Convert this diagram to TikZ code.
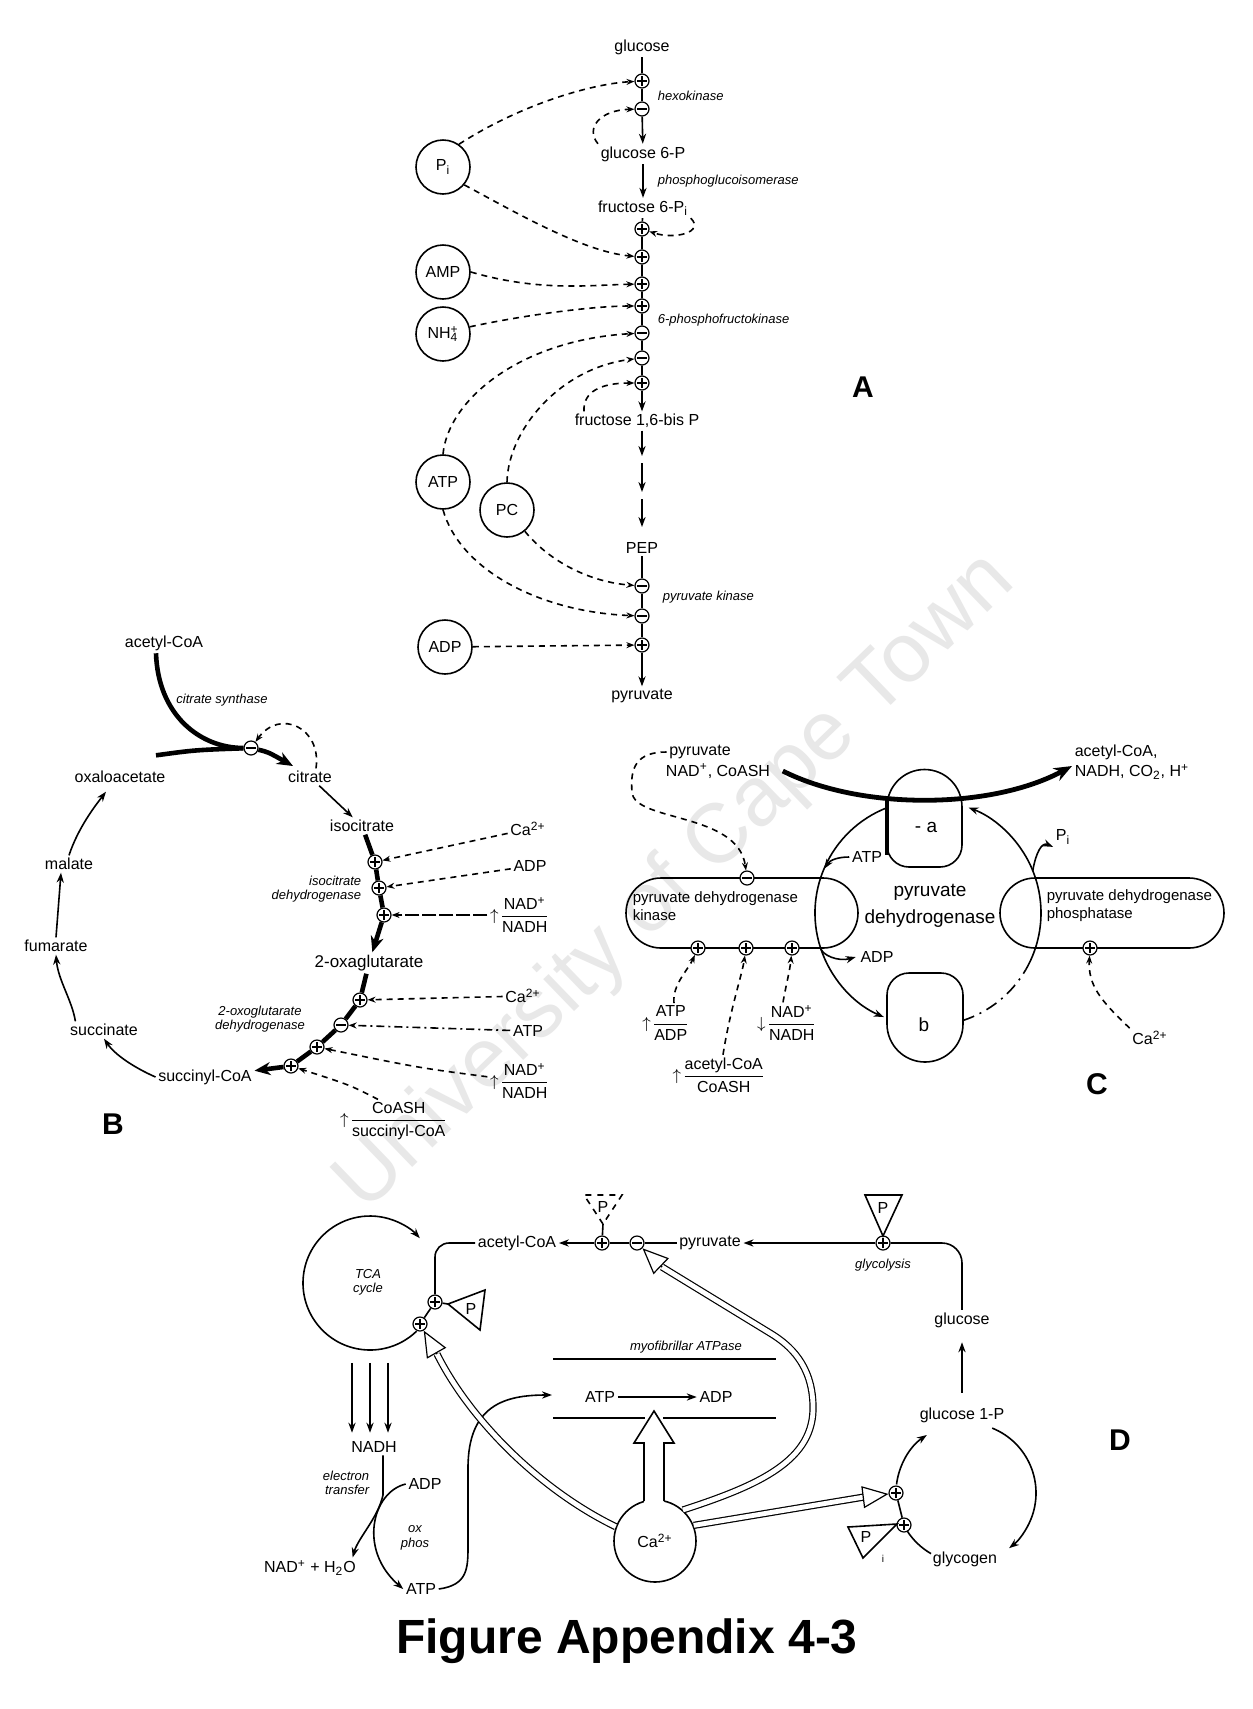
\documentclass[tikz,border=0pt]{standalone}
\usepackage{fontspec}
\setmainfont{Liberation Sans}
\usetikzlibrary{arrows.meta,calc,shapes.misc}
\newcommand{\upfr}[2]{${\uparrow}\kern0.5pt\displaystyle\frac{\mbox{#1}}{\mbox{#2}}$}
\newcommand{\dnfr}[2]{${\downarrow}\kern0.5pt\displaystyle\frac{\mbox{#1}}{\mbox{#2}}$}
\begin{document}
\begin{tikzpicture}[x=0.5pt,y=-0.5pt,line width=0.8pt,
 lbl/.style={font=\fontsize{8}{9}\selectfont,inner sep=1pt},
 sml/.style={font=\fontsize{6.5}{7.2}\selectfont\itshape,inner sep=1pt},
 ltr/.style={font=\fontsize{15}{17}\selectfont\bfseries,inner sep=0pt},
 mol/.style={circle,draw,minimum size=27pt,inner sep=0pt,font=\fontsize{8}{9}\selectfont},
 pm/.style={circle,draw,fill=white,minimum size=7pt,inner sep=0pt,line width=0.6pt},
 opl/.style={pm,path picture={\draw[line width=0.6pt] ([xshift=-2.3pt]path picture bounding box.center) -- ([xshift=2.3pt]path picture bounding box.center) ([yshift=-2.3pt]path picture bounding box.center) -- ([yshift=2.3pt]path picture bounding box.center);}},
 omi/.style={pm,path picture={\draw[line width=0.6pt] ([xshift=-2.3pt]path picture bounding box.center) -- ([xshift=2.3pt]path picture bounding box.center);}},
 arr/.style={-{Stealth[length=5pt,width=3.6pt]}},
 dsh/.style={dash pattern=on 3pt off 2.5pt,-{Stealth[length=4pt,width=3pt]}},
 thk/.style={line width=2.3pt},
 thka/.style={line width=2.3pt,-{Stealth[length=8pt,width=6.5pt]}},
 hol/.style={draw,line width=0.6pt,double=white,double distance=2.4pt},
 holhd/.style={line width=0.6pt,-{Triangle[fill=white,length=13pt,width=11pt]}},
]
\fill[white] (0,0) rectangle (1253,1709);
\useasboundingbox (0,0) rectangle (1253,1709);

% watermark
\node[rotate=44,text=black!9,font=\fontsize{42}{48}\selectfont] (wm) at (676,883) {University of Cape Town};

%%%%%%%%%%%%%%%% PANEL A
\node[lbl] (glc) at (642,47) {glucose};
\node[opl] (a1) at (642,81) {};
\node[omi] (a2) at (642,109) {};
\node[lbl] (g6p) at (643,154) {glucose 6-P};
\node[lbl] (f6p) at (643,208) {fructose 6-P\textsubscript{i}};
\node[opl] (a3) at (642,229) {};
\node[opl] (a4) at (642,257) {};
\node[opl] (a5) at (642,284) {};
\node[opl] (a6) at (642,306) {};
\node[omi] (a7) at (642,333) {};
\node[omi] (a8) at (642,358) {};
\node[opl] (a9) at (642,383) {};
\node[lbl] (f16) at (637,421) {fructose 1,6-bis P};
\coordinate (s1) at (642,456);
\coordinate (s2) at (642,463);
\coordinate (s3) at (642,492);
\coordinate (s4) at (642,499);
\coordinate (s5) at (642,527);
\node[lbl] (pep) at (642,548) {PEP};
\node[omi] (a10) at (642,586) {};
\node[omi] (a11) at (642,616) {};
\node[opl] (a12) at (642,645) {};
\node[lbl] (pyrA) at (642,696) {pyruvate};

\node[sml,anchor=west] (hk) at (655,96) {hexokinase};
\node[sml,anchor=west] (pgi) at (655,181) {phosphoglucoisomerase};
\node[sml,anchor=west] (pfk) at (655,320) {6-phosphofructokinase};
\node[sml,anchor=west] (pkl) at (660,597) {pyruvate kinase};

\node[mol] (pi) at (443,167) {P\textsubscript{i}};
\node[mol] (amp) at (443,272) {AMP};
\node[mol] (nh4) at (443,334) {NH\rlap{\textsuperscript{+}}\textsubscript{4}};
\node[mol] (atpA) at (443,482) {ATP};
\node[mol] (pc) at (507,510) {PC};
\node[mol] (adpA) at (445,647) {ADP};

\draw (glc) -- (a1) -- (a2);
\draw[arr] (a2) -- (g6p);
\draw[arr] (g6p) -- (f6p);
\draw (f6p) -- (a3) -- (a4) -- (a5) -- (a6) -- (a7) -- (a8) -- (a9);
\draw[arr] (a9) -- (a9 |- f16.north);
\draw[arr] (a9 |- f16.south) -- (s1);
\draw[arr] (s2) -- (s3);
\draw[arr] (s4) -- (s5);
\draw (pep) -- (a10) -- (a11) -- (a12);
\draw[arr] (a12) -- (pyrA);

\draw[dsh] (pi.55) .. controls (520,105) and (590,84) .. (a1);
\draw[dsh] (pi.-40) .. controls (520,215) and (585,252) .. (a4);
\draw[dsh] (g6p.north west) .. controls (585,128) and (600,110) .. (a2);
\draw[dsh] (f6p.south east) .. controls (705,232) and (675,240) .. (a3);
\draw[dsh] (amp.east) .. controls (540,292) and (590,285) .. (a5);
\draw[dsh] (nh4.15) .. controls (520,316) and (590,306) .. (a6);
\draw[dsh] (atpA.north) .. controls (448,400) and (520,340) .. (a7);
\draw[dsh] (pc.north) .. controls (508,430) and (560,368) .. (a8);
\draw[dsh] ([xshift=6pt]f16.north west) .. controls (583,392) and (600,383) .. (a9);
\draw[dsh] (pc.-50) .. controls (550,562) and (590,582) .. (a10);
\draw[dsh] (atpA.south) .. controls (460,570) and (540,612) .. (a11);
\draw[dsh] (adpA) -- (a12);
\node[ltr] (lA) at (863,387) {A};

%%%%%%%%%%%%%%%% PANEL B
\node[lbl] (bacoa) at (164,643) {acetyl-CoA};
\node[sml] (bcsl) at (222,700) {citrate synthase};
\node[omi] (bcs) at (251,748) {};
\node[lbl] (boaa) at (120,777) {oxaloacetate};
\node[lbl] (bcit) at (310,777) {citrate};
\node[lbl] (biso) at (362,826) {isocitrate};
\node[opl] (bi1) at (375,862) {};
\node[opl] (bi2) at (379,888) {};
\node[opl] (bi3) at (384,915) {};
\node[sml,align=right,anchor=east] (bidl) at (364,889) {isocitrate\\dehydrogenase};
\node[font=\fontsize{8.5}{9.5}\selectfont,inner sep=1pt] (boxg) at (369,963) {2-oxaglutarate};
\node[opl] (bo1) at (360,1000) {};
\node[omi] (bo2) at (341,1025) {};
\node[opl] (bo3) at (317,1047) {};
\node[opl] (bo4) at (291,1066) {};
\node[sml,align=center] (bodl) at (260,1019) {2-oxoglutarate\\dehydrogenase};
\node[lbl] (bsuc) at (205,1077) {succinyl-CoA};
\node[lbl] (bsn) at (104,1030) {succinate};
\node[lbl] (bfum) at (56,946) {fumarate};
\node[lbl] (bmal) at (69,864) {malate};
\node[lbl] (bca1) at (528,829) {Ca\textsuperscript{2+}};
\node[lbl] (badp) at (530,866) {ADP};
\node[lbl] (bnad1) at (520,915) {\upfr{NAD\textsuperscript{+}}{NADH}};
\node[lbl] (bca2) at (523,996) {Ca\textsuperscript{2+}};
\node[lbl] (batp) at (528,1031) {ATP};
\node[lbl] (bnad2) at (520,1081) {\upfr{NAD\textsuperscript{+}}{NADH}};
\node[lbl] (bcoa) at (394,1121) {\upfr{CoASH}{succinyl-CoA}};
\node[ltr] (lB) at (113,1124) {B};

\draw[thk] ([xshift=-4pt]bacoa.south) .. controls (158,715) and (200,748) .. (bcs);
\draw[thk] ([xshift=18pt,yshift=6.5pt]boaa.north) .. controls (195,750) .. (bcs);
\coordinate (bcitin) at (293,766);
\draw[thka] (bcs) .. controls (268,752) .. (bcitin);
\draw[dsh] ([xshift=3pt]bcit.north) .. controls (322,728) and (280,708) .. (bcs);
\draw[arr] (bcit) -- (biso);
\draw[thk] (biso) -- (bi1);
\draw[thk] (bi1) -- (bi2) -- (bi3);
\draw[thka] (bi3) -- (boxg);
\draw[thk] (boxg) -- (bo1);
\draw[thk] (bo1) -- (bo2) -- (bo3) -- (bo4);
\draw[thka] (bo4) -- (bsuc);
\draw[arr] (bsuc.west) .. controls (135,1068) and (115,1055) .. (bsn.south);
\draw[arr] ([xshift=4pt]bsn.north west) .. controls (72,1000) and (58,980) .. (bfum.south);
\draw[arr] (bfum.north) -- ([xshift=-4pt]bmal.south);
\draw[arr] (bmal.north) .. controls (78,828) and (95,806) .. ([xshift=-7pt,yshift=-3pt]boaa.south);
\draw[dsh] (bca1) -- (bi1);
\draw[dsh] (badp) -- (bi2);
\draw[dsh,dash pattern=on 7pt off 1.5pt] (bnad1) -- (bi3);
\draw[dsh] (bca2) -- (bo1);
\draw[dsh,dash pattern=on 4pt off 2pt on 1pt off 2pt] (batp) -- (bo2);
\draw[dsh] (bnad2) .. controls (420,1068) .. (bo3);
\draw[dsh] ([xshift=-8pt]bcoa.north) .. controls (350,1085) .. (bo4);

%%%%%%%%%%%%%%%% PANEL C
\node[lbl] (cpyr) at (700,752) {pyruvate};
\node[lbl] (cnad) at (718,771) {NAD\textsuperscript{+}, CoASH};
\node[lbl,anchor=west] (cacoa) at (1072,752) {acetyl-CoA,};
\node[lbl,anchor=west] (cnadh) at (1072,772) {NADH, CO\textsubscript{2}, H\textsuperscript{+}};
\node[draw,rounded rectangle,minimum width=116pt,minimum height=35pt,inner sep=0pt] (ckin) at (742,913) {};
\node[draw,rounded rectangle,minimum width=112pt,minimum height=35pt,inner sep=0pt] (cpho) at (1112,913) {};
\node[font=\fontsize{7.5}{9}\selectfont,anchor=west,align=left,inner sep=0pt] (ckinl) at (632,906) {pyruvate dehydrogenase\\kinase};
\node[font=\fontsize{7.5}{9}\selectfont,anchor=west,align=left,inner sep=0pt] (cphol) at (1046,906) {pyruvate dehydrogenase\\phosphatase};
\node[omi] (cmi) at (747,878) {};
\node[opl] (ck1) at (698,948) {};
\node[opl] (ck2) at (746,948) {};
\node[opl] (ck3) at (792,948) {};
\node[opl] (cp1) at (1090,948) {};
\node[font=\fontsize{9.5}{13.5}\selectfont,align=center,inner sep=0pt] (cpdh) at (930,906) {pyruvate\\dehydrogenase};
\node[lbl] (catp) at (867,857) {ATP};
\node[lbl] (cadp) at (877,957) {ADP};
\node[lbl] (cpi) at (1063,837) {P\textsubscript{i}};
\node[font=\fontsize{9.5}{11}\selectfont] (cal) at (926,827) {- a};
\node[font=\fontsize{9.5}{11}\selectfont] (cbl) at (924,1025) {b};

% a and b subunits
\draw (887,807) arc[start angle=180,end angle=360,radius=37.5] -- (962,845) arc[start angle=0,end angle=90,radius=22] -- (909,867) arc[start angle=90,end angle=180,radius=22] -- cycle;
\draw (887,1024) -- (887,995) arc[start angle=180,end angle=270,radius=22] -- (941,973) arc[start angle=270,end angle=360,radius=22] -- (963,1024) arc[start angle=0,end angle=180,radius=38] -- cycle;

\coordinate (pO) at (928,913);
\draw[arr] ($(pO)+(249:113)$) arc[start angle=249,end angle=113,radius=113];
\draw[dash pattern=on 6pt off 3pt on 1pt off 3pt] ($(pO)+(72:113)$) arc[start angle=72,end angle=30,radius=113];
\draw[arr] ($(pO)+(30:113)$) arc[start angle=30,end angle=-69,radius=113];
\coordinate (pj1) at ($(pO)+(203:113)$);
\coordinate (pj2) at ($(pO)+(162:113)$);
\coordinate (pj3) at ($(pO)+(-22:113)$);
\draw[arr] (catp.west) .. controls (838,857) and (830,860) .. (pj1);
\draw[arr] (pj2) .. controls (822,955) and (838,962) .. ([xshift=-1pt]cadp.west);
\draw[arr] (pj3) .. controls (1036,852) and (1042,842) .. (cpi.south west);

\draw[line width=2.4pt,-{Stealth[length=9pt,width=7pt]}] ([xshift=5pt]cnad.east) .. controls (860,810) and (990,810) .. ([yshift=-7pt]cacoa.west);
\draw[line width=2.4pt] (887,801) -- (887,855);

\draw[dsh] (cpyr.west) .. controls (636,752) and (630,768) .. (632,792) .. controls (634,822) and (738,812) .. (cmi);

\node[lbl] (cfr1) at (666,1023) {\upfr{ATP}{ADP}};
\node[lbl] (cfr2) at (719,1075) {\upfr{acetyl-CoA}{CoASH}};
\node[lbl] (cfr3) at (787,1023) {\dnfr{NAD\textsuperscript{+}}{NADH}};
\node[lbl] (cca) at (1150,1038) {Ca\textsuperscript{2+}};
\node[ltr] (lC) at (1097,1084) {C};
\draw[dsh] ([xshift=4pt]cfr1.north) .. controls (672,985) and (688,970) .. (ck1);
\draw[dsh] ([xshift=2pt]cfr2.north) .. controls (730,1010) and (742,975) .. (ck2);
\draw[dsh] ([xshift=-2pt]cfr3.north) .. controls (786,985) and (790,970) .. (ck3);
\draw[dsh] (cca.north west) .. controls (1100,1000) and (1088,985) .. (cp1);

%%%%%%%%%%%%%%%% PANEL D
\coordinate (tcaO) at (370,1283);
\node[circle,minimum size=67pt,inner sep=0pt] (tca) at (tcaO) {};
\draw[arr] ($(tcaO)+(46:67)$) arc[start angle=46,end angle=318,radius=67];
\node[sml,align=center] (tcal) at (368,1282) {TCA\\cycle};
\node[opl] (d1) at (435,1302) {};
\node[opl] (d2) at (420,1324) {};
\node[lbl] (dacoa) at (517,1243) {acetyl-CoA};
\node[opl] (d3) at (602,1243) {};
\node[omi] (d4) at (637,1243) {};
\node[lbl] (dpyr) at (710,1243) {pyruvate};
\node[opl] (d5) at (883,1243) {};
\node[sml] (dgly) at (883,1265) {glycolysis};
\node[lbl] (dglc) at (962,1320) {glucose};
\node[lbl] (dg1p) at (962,1415) {glucose 1-P};
\coordinate (gO) at (966,1493);
\node[opl] (d6) at (896,1493) {};
\node[opl] (d7) at (904,1525) {};
\node[lbl] (dglyg) at (965,1559) {glycogen};
\node[ltr] (lD) at (1120,1440) {D};

% triangles
\coordinate (t1) at (448,1304);
\draw (t1) -- (485,1290) -- (480,1330) -- cycle;
\node[lbl] (t1p) at (471,1309) {P};
\draw (d1) -- (t1);
\coordinate (t2) at (603,1224);
\draw[dashed] (t2) -- (584,1195) -- (622,1195) -- cycle;
\node[lbl] (t2p) at (603,1207) {P};
\draw (t2) -- (d3);
\coordinate (t3) at (883,1236);
\draw (t3) -- (865,1195) -- (902,1195) -- cycle;
\node[lbl] (t3p) at (883,1208) {P};
\coordinate (t4) at (897,1524);
\draw (t4) -- (848,1527) -- (863,1558) -- cycle;
\node[lbl] (t4p) at (866,1537) {P};
\node[font=\fontsize{5}{5}\selectfont,inner sep=0pt] (t4i) at (883,1559) {i};

\draw[rounded corners=7pt] (dacoa.west) -- (435,1243) -- (d1);
\draw (d1) -- (d2);
\draw[arr] (d3) -- (dacoa);
\draw (d4) -- (d3);
\draw (dpyr) -- (d4);
\draw[arr] (d5) -- (dpyr);
\draw[rounded corners=10pt] (dglc.north) -- (962,1243) -- (d5);
\draw[arr,shorten <=6pt,shorten >=6pt] (dg1p) -- (dglc);
\draw[arr] ($(gO)+(187:70)$) arc[start angle=187,end angle=236,radius=70];
\draw[arr] ($(gO)+(292:70)$) arc[start angle=292,end angle=412,radius=70];
\draw ($(gO)+(120:70)$) arc[start angle=120,end angle=147,radius=70];
\draw (d6) -- (d7);

% NADH / ox phos
\node[lbl] (dnadh) at (374,1447) {NADH};
\node[lbl] (dnadw) at (310,1568) {NAD\textsuperscript{+} + H\textsubscript{2}O};
\node[lbl] (dadp2) at (425,1484) {ADP};
\node[lbl] (datp2) at (421,1589) {ATP};
\node[sml,align=right,anchor=east] (det) at (372,1483) {electron\\transfer};
\node[sml,align=center] (dox) at (415,1538) {ox\\phos};
\draw[arr,shorten <=6pt,shorten >=3pt] ([xshift=-9pt]tca.south) -- ([xshift=-11pt]dnadh.north);
\draw[arr,shorten <=6pt,shorten >=3pt] (tca.south) -- ([xshift=-2pt]dnadh.north);
\draw[arr,shorten <=6pt,shorten >=3pt] ([xshift=9pt]tca.south) -- ([xshift=7pt]dnadh.north);
\draw[arr] ([xshift=4.5pt]dnadh.south) -- (383,1495) .. controls (378,1518) and (358,1538) .. ([xshift=-3pt]dnadw.north east);
\draw[arr] (dadp2.west) .. controls (372,1492) and (358,1550) .. (datp2.west);

% myofibrillar ATPase
\node[sml] (dmyo) at (686,1347) {myofibrillar ATPase};
\coordinate (m1) at (553,1359);
\coordinate (m2) at (776,1359);
\coordinate (m3) at (553,1418);
\coordinate (m4) at (645,1418);
\coordinate (m5) at (663,1418);
\coordinate (m6) at (776,1418);
\draw (m1) -- (m2);
\draw (m3) -- (m4);
\draw (m5) -- (m6);
\node[lbl] (datp) at (600,1397) {ATP};
\node[lbl] (dadp) at (716,1397) {ADP};
\draw[arr] (datp) -- (dadp);
\coordinate (dmin) at (552,1395);
\draw[arr] (datp2.east) .. controls (468,1585) and (468,1568) .. (468,1545) -- (468,1468) .. controls (468,1405) and (505,1395) .. (dmin);

% Ca2+
\node[lbl,circle,draw,fill=white,minimum size=41pt,inner sep=0pt] (dca) at (655,1541) {Ca\textsuperscript{2+}};
\fill[white] (644,1506) -- (644,1443) -- (634,1443) -- (654,1411) -- (674,1443) -- (664,1443) -- (664,1506) -- cycle;
\draw (644,1501) -- (644,1443) -- (634,1443) -- (654,1411) -- (674,1443) -- (664,1443) -- (664,1501);
\coordinate (h1) at (437,1354);
\draw[hol] (dca.160) .. controls (540,1490) and (470,1420) .. (h1);
\draw[holhd] (h1) -- (d2);
\coordinate (h2) at (662,1267);
\draw[hol] (dca.48) .. controls (760,1485) and (815,1460) .. (813,1405) .. controls (812,1365) and (790,1345) .. (770,1333) -- (h2);
\draw[holhd] (h2) -- (d4);
\coordinate (h3) at (864,1497);
\draw[hol] (dca.22) -- (h3);
\draw[holhd] (h3) -- (d6);

\node[font=\fontsize{24}{28}\selectfont\bfseries] (title) at (627,1641) {Figure Appendix 4-3};
\end{tikzpicture}
\end{document}
